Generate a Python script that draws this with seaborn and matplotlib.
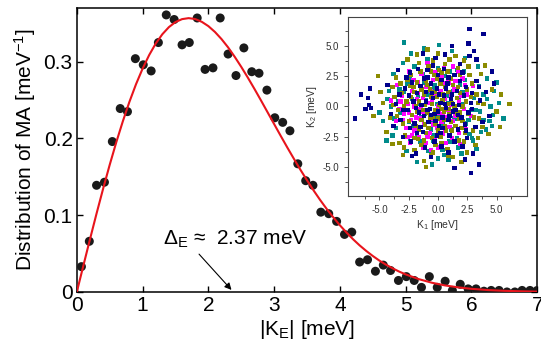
import matplotlib
matplotlib.use("Agg")
import matplotlib.pyplot as plt
import numpy as np
import pandas as pd
import seaborn as sns

# measured distribution of |K_E| (black dots)
k_bins = [0.07, 0.19, 0.30, 0.42, 0.54, 0.66, 0.77, 0.89, 1.01, 1.13,
          1.24, 1.36, 1.48, 1.60, 1.71, 1.83, 1.95, 2.07, 2.18, 2.30,
          2.42, 2.54, 2.66, 2.77, 2.89, 3.01, 3.13, 3.24, 3.36, 3.48,
          3.59, 3.71, 3.83, 3.95, 4.07, 4.18, 4.30, 4.42, 4.54, 4.66,
          4.77, 4.89, 5.01, 5.13, 5.24, 5.36, 5.48, 5.60, 5.71, 5.83,
          5.95, 6.07, 6.19, 6.30, 6.42, 6.54, 6.66, 6.77, 6.89, 7.00]
dist_ma = [0.033, 0.066, 0.139, 0.143, 0.196, 0.239, 0.235, 0.304, 0.296, 0.288,
           0.325, 0.361, 0.355, 0.322, 0.325, 0.357, 0.290, 0.292, 0.357, 0.310,
           0.282, 0.318, 0.287, 0.285, 0.263, 0.227, 0.221, 0.210, 0.167, 0.145,
           0.139, 0.104, 0.102, 0.092, 0.075, 0.078, 0.039, 0.042, 0.027, 0.035,
           0.028, 0.015, 0.020, 0.015, 0.006, 0.020, 0.006, 0.014, 0.002, 0.010,
           0.004, 0.004, 0.001, 0.002, 0.002, 0.000, 0.000, 0.002, 0.002, 0.002]

# fitted curve (red)
fit_k = [0.0, 0.1, 0.2, 0.3, 0.4, 0.5, 0.6, 0.7, 0.8, 0.9,
         1.0, 1.1, 1.2, 1.3, 1.4, 1.5, 1.6, 1.7, 1.8, 1.9,
         2.0, 2.1, 2.2, 2.3, 2.4, 2.5, 2.6, 2.7, 2.8, 2.9,
         3.0, 3.1, 3.2, 3.3, 3.4, 3.5, 3.6, 3.7, 3.8, 3.9,
         4.0, 4.1, 4.2, 4.3, 4.4, 4.5, 4.6, 4.7, 4.8, 4.9,
         5.0, 5.2, 5.4, 5.6, 5.8, 6.0, 6.25, 6.5, 6.75, 7.0]
fit_val = [0.0, 0.0345, 0.0687, 0.1022, 0.1346, 0.1657, 0.1951, 0.2225, 0.2478, 0.2707,
           0.2910, 0.3087, 0.3237, 0.3358, 0.3451, 0.3517, 0.3555, 0.3568, 0.3556, 0.3520,
           0.3464, 0.3388, 0.3295, 0.3187, 0.3065, 0.2933, 0.2793, 0.2647, 0.2496, 0.2342,
           0.2188, 0.2034, 0.1883, 0.1736, 0.1592, 0.1455, 0.1323, 0.1198, 0.1081, 0.0972,
           0.0869, 0.0775, 0.0687, 0.0607, 0.0535, 0.0469, 0.0409, 0.0356, 0.0309, 0.0266,
           0.0229, 0.0167, 0.0120, 0.0085, 0.0060, 0.0041, 0.0025, 0.0015, 0.0009, 0.0005]

# inset: (K1, K2) points per group
teal_pts = [(-2.9, 5.3), (-2.3, 4.4), (-3.8, 2.7), (-4.3, 0.6), (-4.7, -1.2), (-3.9, -2.4),
            (-2.7, -3.7), (-1.8, -4.6), (-0.5, -4.8), (0.9, -4.4), (2.0, -3.9), (3.0, -2.8),
            (4.1, -1.9), (4.7, -0.7), (5.2, 0.3), (4.8, 1.3), (4.2, 2.3), (3.4, 3.3),
            (2.3, 4.0), (1.2, 4.6), (0.1, 5.1), (-1.2, 4.8), (-1.0, 0.5), (0.8, 0.9),
            (0.3, -0.8), (-0.6, -1.2), (1.4, -1.0), (-1.7, 0.9), (1.9, 1.8), (-2.1, -1.6),
            (2.4, -1.4), (-2.6, 1.9), (0.6, 2.5), (-0.4, -2.4), (3.1, 0.7), (-3.2, -0.5),
            (1.0, -2.9), (-1.3, 2.7), (2.8, -0.3), (-2.0, 3.3), (0.0, 3.2), (-0.1, 0.2),
            (1.6, 3.0), (-1.5, -2.9), (3.6, -0.4), (-3.3, 1.4), (2.2, 2.9), (-2.4, -2.9),
            (0.4, -3.6), (1.3, 1.3), (-1.1, -0.6), (0.2, 1.1), (3.9, 1.0), (-3.6, -1.8),
            (4.4, -1.2), (2.7, -2.3), (5.6, -1.0), (5.0, 2.0), (-5.0, -0.5), (-4.4, -2.8),
            (-0.8, -3.7), (1.7, -3.4), (3.3, -3.5), (-3.0, 3.6), (4.5, 0.0), (-4.0, 0.0),
            (2.0, 0.2), (-0.3, 1.8),
            (0.9, 0.3), (-0.8, 1.0), (1.5, -0.3), (-1.4, -0.9), (0.4, -1.5), (-0.3, 1.4),
            (2.1, 1.2), (-2.2, 0.6), (1.1, -1.9), (-1.2, 2.0), (2.6, -1.1), (-2.5, -1.3),
            (0.2, 2.6), (-0.4, -2.8), (2.3, 2.2), (-2.4, 2.3), (3.2, -0.3), (-3.4, 0.4),
            (1.6, -2.6), (-1.8, -2.5), (3.5, 1.7), (-3.7, -1.0), (2.9, -2.6), (-0.9, 3.9),
            (0.5, -4.0), (3.9, -1.1), (4.2, 0.6), (3.7, -2.1), (-0.1, -0.9), (0.6, 1.9),
            (-1.6, 0.2), (1.8, 0.6), (-0.6, -1.9), (1.0, 2.9), (-2.9, 1.2), (2.0, -1.0),
            (-1.1, -3.1), (4.6, -1.6), (-4.2, 1.3), (0.0, -4.3)]
magenta_pts = [(-1.8, 0.6), (-2.2, 1.3), (-2.6, 0.2), (-2.9, -0.6), (-2.3, -1.1), (-1.5, -0.2),
               (-1.0, 1.6), (-0.4, 2.2), (0.3, 2.5), (0.9, 2.0), (1.4, 1.4), (1.8, 0.4),
               (1.5, -0.8), (1.0, -1.7), (0.4, -2.3), (-0.3, -2.8), (-1.0, -3.0), (-1.6, -2.5),
               (-2.0, -2.0), (-2.7, -1.8), (-3.1, 0.9), (-3.3, -0.2), (-0.8, 0.3), (0.1, -0.5),
               (0.6, 0.6), (-0.5, -1.0), (0.2, 1.3), (-1.2, -1.5), (0.8, -0.9), (-0.1, -1.8),
               (1.2, -2.6), (-2.1, 2.2), (-1.4, 2.7), (0.5, 3.2), (2.1, 2.3), (2.5, 1.0),
               (2.4, -1.9), (-0.6, -3.6), (-2.4, -3.0), (-3.5, 1.8), (-3.6, -1.2), (1.9, -3.1),
               (0.0, -3.4), (-0.9, 3.6), (1.3, 3.3), (2.8, -0.8), (-1.9, -0.9), (-0.2, 0.9),
               (1.1, 0.1), (-1.3, 0.7), (-0.7, -2.2), (0.3, -1.3), (2.2, -0.2), (-2.5, 2.9),
               (-4.0, 0.5), (3.0, 1.7), (1.7, 2.9),
               (-1.7, 1.1), (-2.0, 0.0), (-1.3, -0.4), (-0.6, 1.3), (0.5, 1.9), (1.1, 1.0),
               (0.4, -0.6), (-0.4, -1.5), (-1.5, -1.0), (-2.5, -0.5), (-2.8, 1.5), (-1.7, 2.0),
               (-0.2, 2.8), (1.5, 2.1), (2.0, 0.9), (1.3, -1.2), (0.6, -2.0), (-0.9, -2.5),
               (-2.2, -2.4), (-3.0, -1.1), (-0.5, 0.5), (0.0, 0.0), (0.9, -0.3), (-1.0, 2.3),
               (-2.6, -2.5), (-1.3, -3.4), (0.7, -3.0), (1.8, -2.2), (-3.2, 0.4), (2.3, 1.8)]
olive_pts = [(-5.1, 2.5), (6.1, 0.2), (5.3, -1.7), (0.1, 0.1), (-0.6, 0.8), (1.0, -0.6),
             (-1.3, -0.3), (0.6, 1.6), (-2.0, 1.2), (1.9, 1.1), (-0.2, -1.4), (-1.0, 2.1),
             (1.5, -1.6), (-1.6, -1.9), (2.6, -0.6), (-2.7, 0.4), (0.3, 2.8), (-0.5, -2.6),
             (2.9, 1.9), (-3.0, -1.4), (1.2, 0.3), (-0.9, -0.5), (0.5, -1.1), (-1.8, 2.0),
             (2.3, -2.2), (-2.3, 2.6), (1.7, 3.2), (-1.4, -3.2), (3.5, -1.0), (-3.7, 0.8),
             (0.8, -3.5), (-0.4, 3.8), (2.2, 3.8), (3.9, 0.2), (-4.1, -0.9), (-3.9, 1.6),
             (4.3, -2.3), (-4.4, -2.1), (1.3, -4.2), (-2.0, -3.6), (0.0, 4.4), (-2.6, 3.9),
             (4.6, 1.4), (-4.7, 0.3), (3.2, -3.2), (-3.3, -3.0), (2.7, 2.6), (-2.8, -2.4),
             (0.4, 0.5), (-0.2, -0.3), (1.6, 0.7), (-1.2, 1.0), (0.7, -2.0), (-2.2, -0.7),
             (2.1, -1.2), (-0.7, 1.4), (0.2, 1.9), (-1.9, 0.0), (2.4, 0.4), (-1.1, -1.5),
             (1.1, 2.3), (-1.5, 2.9), (0.9, -0.2), (3.3, 1.0), (-3.4, -0.3), (1.8, -2.8),
             (-1.7, -2.7), (0.3, -3.0), (-0.8, 3.3), (3.7, 2.7), (-3.6, 2.4), (2.5, -3.8),
             (-0.6, -4.0), (1.5, 4.2), (-4.9, 1.2), (5.0, -0.4), (-0.9, 4.7), (-1.8, 4.3),
             (4.0, 3.4), (-3.9, -3.1), (2.0, -4.6), (-1.2, -4.5), (0.6, 3.5), (-2.4, 1.7),
             (1.9, -0.5), (-0.3, 2.6), (0.0, -2.0), (3.0, -2.0), (-3.1, 1.1), (-5.5, -0.8),
             (5.4, 1.0), (-1.0, -5.0), (-3.0, -4.0),
             (0.5, -0.4), (-0.4, -0.9), (1.4, 0.0), (-1.6, 0.4), (0.9, 1.2), (-0.9, 1.8),
             (1.8, -1.0), (-1.4, -1.1), (0.2, -2.5), (-2.5, -1.2), (2.5, 1.4), (-0.1, 2.3),
             (1.3, 1.8), (-2.1, 1.6), (2.0, -1.8), (-1.0, -2.2), (0.6, -1.6), (-0.5, 0.2),
             (1.1, -1.3), (-1.8, -0.4), (0.4, 1.0), (-0.8, -1.8), (2.8, 0.8), (-2.9, 0.0),
             (0.1, 3.0), (-0.2, -3.2), (3.1, -0.9), (-3.2, 1.9), (1.9, 2.6), (-2.0, -2.6),
             (2.2, -2.9), (-2.6, 2.2), (0.8, 2.9), (-1.2, -2.8), (3.4, 0.3), (-3.5, -0.8),
             (1.0, 3.9), (-0.4, -3.8), (3.8, -1.7), (-3.8, 0.1), (2.6, 3.3), (-2.9, -3.4),
             (3.4, -2.6), (-1.6, 3.6), (0.9, -4.1), (-0.1, 0.8), (0.8, 0.2), (-0.7, -0.9),
             (1.6, -0.6), (-1.4, 1.4), (0.3, -0.2), (-0.3, 1.2), (1.2, -2.0), (-2.3, 0.8),
             (2.1, 0.0), (-1.1, 0.1), (0.0, -1.0), (1.7, 1.6), (-1.9, -1.6), (-0.6, 2.9)]
navy_pts = [(-6.6, 1.0), (-5.8, 1.5), (-6.0, 0.7), (-5.9, 0.1), (-5.7, -0.1), (-6.2, -0.2),
            (-7.1, -1.0), (2.7, 6.4), (3.9, 6.0), (4.6, 2.9), (2.8, -5.5), (3.5, -4.8),
            (1.4, -5.1), (0.2, 0.3), (-0.5, 1.1), (1.3, -0.4), (-1.2, -0.8), (0.8, 1.9),
            (-2.1, 0.4), (2.2, 0.9), (0.1, -1.6), (-0.9, 2.4), (1.7, -1.9), (-1.8, -2.2),
            (2.9, -0.2), (-2.8, 1.5), (0.5, 3.1), (-0.3, -2.9), (3.3, 2.1), (-3.2, -1.1),
            (1.1, 0.6), (-0.7, -0.2), (0.4, -0.9), (-1.5, 1.7), (2.5, -2.6), (-2.4, 2.8),
            (1.9, 3.5), (-1.1, -3.4), (3.8, -1.3), (-3.6, 0.2), (0.9, -3.8), (-0.2, 4.0),
            (2.7, 4.2), (3.1, 4.6), (3.3, 3.9), (4.1, 1.2), (-4.0, -0.6), (-4.3, 1.8),
            (1.6, 1.3), (-0.4, 0.7), (0.7, -0.1), (-1.4, 0.1), (1.0, -2.4), (-2.0, -1.4),
            (2.0, -0.9), (-0.1, 1.5), (0.3, 2.2), (-2.6, -0.3), (2.4, 1.6), (-0.8, -1.3),
            (1.4, 2.6), (-1.7, 3.1), (0.0, -0.4), (3.6, 0.5), (-3.0, -2.5), (2.1, -3.3),
            (-1.9, -3.9), (0.6, 4.3), (-0.6, -4.2), (4.4, -0.8), (3.0, -3.9), (2.3, -4.4),
            (-2.2, -4.1), (1.2, 5.0), (-1.3, 4.4), (4.8, 1.9), (2.6, 5.2), (-3.4, 3.0),
            (0.5, 0.9), (-0.3, -0.6), (1.8, 0.1), (-1.0, 1.2), (0.9, -1.1), (-2.5, 0.9),
            (1.5, -0.3), (0.2, -2.2), (-1.6, -0.5), (2.8, 0.3),
            (0.6, 0.2), (-0.6, -0.7), (1.2, 1.0), (-1.0, 0.4), (0.1, 1.0), (-0.2, -1.2),
            (1.7, -0.7), (-1.8, 1.1), (0.9, 2.4), (-1.3, -2.1), (2.3, -1.5), (-2.2, 2.0),
            (1.4, -2.9), (-0.9, 3.0), (2.9, 1.1), (-3.0, -0.3), (0.3, -3.3), (-0.4, 3.4),
            (3.2, -1.7), (-3.3, 1.0), (1.9, 2.1), (-2.3, -2.9), (2.6, -0.5), (-1.5, -1.7),
            (0.7, 1.5), (-0.6, 1.9), (1.0, -0.8), (-1.9, -0.1), (0.0, 2.6), (-0.1, -2.4),
            (2.1, 2.8), (-2.7, 2.4), (1.3, 0.2), (-0.9, -0.3), (0.4, -1.8), (-1.2, 2.3),
            (2.4, -2.0), (-2.4, -1.8), (3.5, 1.6), (-3.8, -1.6)]
groups = ["teal", "magenta", "olive", "navy"]
group_colors = {"teal": "#008b8b", "magenta": "#ff00ff", "olive": "#8b8b00", "navy": "#00008b"}

plt.rcParams["font.family"] = ["Liberation Sans", "DejaVu Sans"]
plt.rcParams["mathtext.fontset"] = "custom"
plt.rcParams["mathtext.rm"] = "Liberation Sans"
plt.rcParams["mathtext.it"] = "Liberation Sans:italic"

dots = pd.DataFrame({"k": k_bins, "d": dist_ma})
fit = pd.DataFrame({"k": fit_k, "d": fit_val})

fig = plt.figure(figsize=(5.41, 3.48), dpi=100)
ax = fig.add_axes([0.142, 0.161, 0.851, 0.816])

sns.scatterplot(data=dots, x="k", y="d", color="#1a1a1a", s=42, edgecolor="none", ax=ax, zorder=3)
sns.lineplot(data=fit, x="k", y="d", color="#e8141c", lw=1.5, sort=False, estimator=None, ax=ax, zorder=4)

ax.set_xlim(0, 7)
ax.set_ylim(0, 0.37)
ax.set_xticks(range(8))
ax.set_yticks([0, 0.1, 0.2, 0.3])
ax.set_yticklabels(["0", "0.1", "0.2", "0.3"])
ax.tick_params(direction="in", top=True, right=True, length=4, width=1, labelsize=15, pad=3)
for sp in ax.spines.values():
    sp.set_linewidth(1.1)
ax.set_xlabel("|K$_\\mathrm{E}$| [meV]", fontsize=15, labelpad=2)
ax.set_ylabel("Distribution of MA [meV$^{-1}$]", fontsize=15, labelpad=4)

ax.text(1.31, 0.061, "$\\Delta_\\mathrm{E}$ \u2248  2.37 meV", fontsize=15)
ax.annotate("", xy=(2.38, 0.0), xytext=(1.83, 0.052),
            arrowprops=dict(arrowstyle="-|>", color="black", lw=0.8, mutation_scale=10))

# inset
ins = fig.add_axes([0.643, 0.437, 0.331, 0.514])
rows = []
for g, pts in zip(groups, [teal_pts, magenta_pts, olive_pts, navy_pts]):
    for x, y in pts:
        rows.append((x, y, g))
cloud = pd.DataFrame(rows, columns=["k1", "k2", "g"])
sns.scatterplot(data=cloud, x="k1", y="k2", hue="g", palette=group_colors, marker="s",
                s=10, linewidth=0, legend=False, ax=ins)
ins.set_xlim(-7.7, 7.6)
ins.set_ylim(-7.4, 7.4)
ins.set_xticks([-5, -2.5, 0, 2.5, 5])
ins.set_yticks([-5, -2.5, 0, 2.5, 5])
ins.set_xticklabels(["-5.0", "-2.5", "0.0", "2.5", "5.0"])
ins.set_yticklabels(["-5.0", "-2.5", "0.0", "2.5", "5.0"])
ins.set_xticks([-6.25, -3.75, -1.25, 1.25, 3.75, 6.25], minor=True)
ins.set_yticks([-6.25, -3.75, -1.25, 1.25, 3.75, 6.25], minor=True)
ins.tick_params(which="both", direction="out", labelsize=7, colors="#333333", width=0.6)
ins.tick_params(which="major", length=3)
ins.tick_params(which="minor", length=2)
for sp in ins.spines.values():
    sp.set_linewidth(0.8)
    sp.set_color("#444444")
ins.set_xlabel("K$_1$ [meV]", fontsize=7.5, color="#333333", labelpad=2)
ins.set_ylabel("K$_2$ [meV]", fontsize=7.5, color="#333333", labelpad=2)

fig.savefig("out.png", dpi=100)
